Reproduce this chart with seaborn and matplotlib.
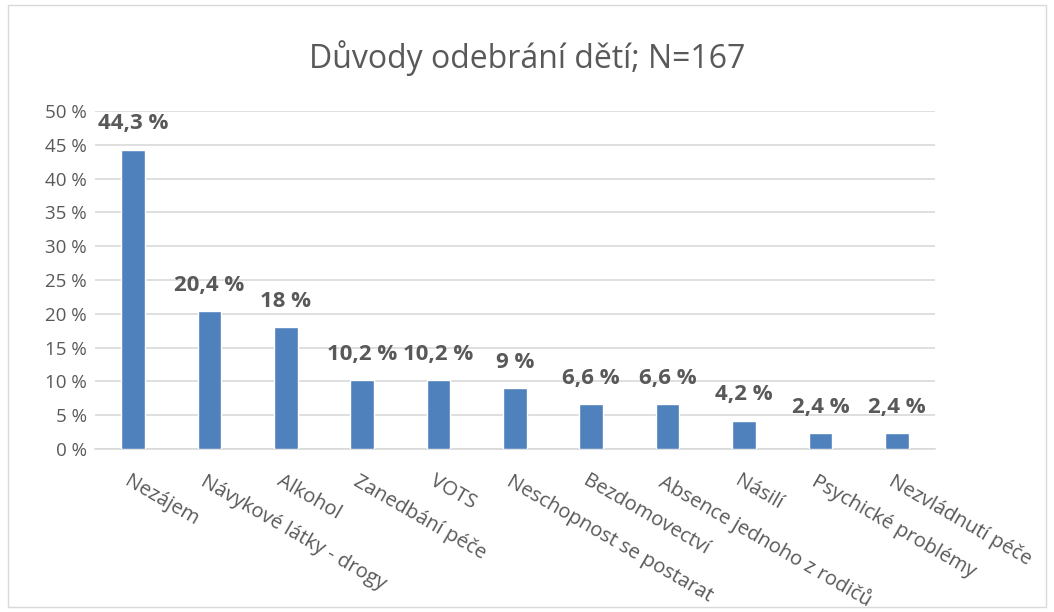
import matplotlib.pyplot as plt
import matplotlib.transforms as mtransforms
import seaborn as sns
import pandas as pd

categories = ["Nezájem", "Návykové látky - drogy", "Alkohol", "Zanedbání péče", "VOTS",
              "Neschopnost se postarat", "Bezdomovectví", "Absence jednoho z rodičů",
              "Násilí", "Psychické problémy", "Nezvládnutí péče"]
values = [44.3, 20.4, 18.0, 10.2, 10.2, 9.0, 6.6, 6.6, 4.2, 2.4, 2.4]
labels = ["44,3 %", "20,4 %", "18 %", "10,2 %", "10,2 %", "9 %", "6,6 %", "6,6 %",
          "4,2 %", "2,4 %", "2,4 %"]
yticks = [0, 5, 10, 15, 20, 25, 30, 35, 40, 45, 50]

sns.set_style("white")
plt.rcParams['font.family'] = ['Open Sans', 'DejaVu Sans']
grey = "#595959"

df = pd.DataFrame({"cat": categories, "val": values})

fig = plt.figure(figsize=(10.54, 6.12), dpi=100)
ax = fig.add_axes([0.090, 0.2663, 0.797, 0.5523])
sns.barplot(data=df, x="cat", y="val", color="#4F81BD", width=0.31, saturation=1, ax=ax, zorder=3)

ax.set_ylim(0, 50)
ax.set_yticks(yticks)
ax.set_yticklabels([f"{t} %" for t in yticks], fontsize=13.5, color=grey)
ax.yaxis.grid(True, color="#D9D9D9", linewidth=1.2, zorder=0)
ax.set_xlim(-0.5, len(categories) - 0.5)
for s in ["top", "right", "left"]:
    ax.spines[s].set_visible(False)
ax.spines["bottom"].set_color("#D9D9D9")
ax.spines["bottom"].set_linewidth(1.2)
ax.tick_params(axis="both", length=0, pad=6)
ax.set_xlabel("")
ax.set_ylabel("")

ax.set_xticks(range(len(categories)))
ax.set_xticklabels(categories, rotation=-30, ha="left", rotation_mode="anchor",
                   fontsize=14.5, color=grey)
offset = mtransforms.ScaledTranslation(-2 / 100, -14 / 100, fig.dpi_scale_trans)
for lab in ax.get_xticklabels():
    lab.set_transform(lab.get_transform() + offset)

for i, (v, t) in enumerate(zip(values, labels)):
    ax.annotate(t, (i, v), xytext=(0, 11), textcoords="offset points", ha="center", va="bottom",
                fontsize=16, fontweight="bold", color=grey)

fig.text(0.5, 0.905, "Důvody odebrání dětí; N=167", ha="center", va="center",
         fontsize=23, color=grey)

border = plt.Rectangle((0.008, 0.008), 0.984, 0.984, transform=fig.transFigure,
                       fill=False, edgecolor="#D9D9D9", linewidth=1)
fig.patches.append(border)

fig.savefig("out.png", dpi=100)
